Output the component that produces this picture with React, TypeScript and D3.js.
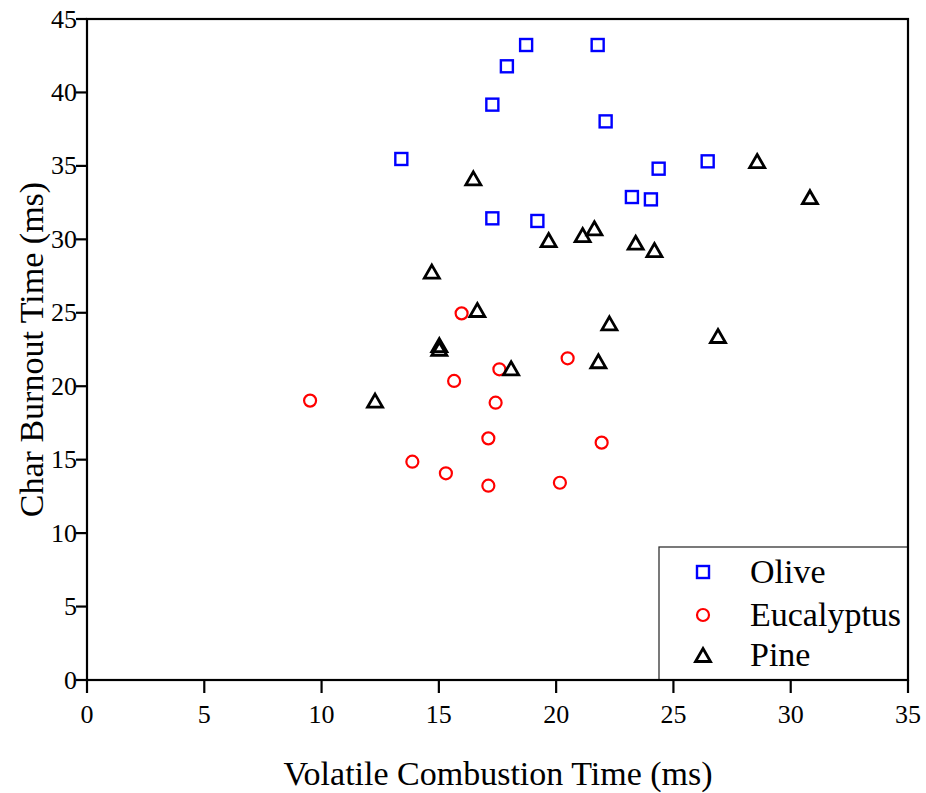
import React from "react";
import * as d3 from "d3";

const oliveX = [18.72, 21.77, 17.9, 17.28, 22.11, 13.4, 24.37, 26.46, 23.23, 24.04, 17.28, 19.2];
const oliveY = [43.23, 43.23, 41.78, 39.17, 38.03, 35.47, 34.81, 35.31, 32.88, 32.72, 31.43, 31.25];

const eucX = [15.97, 20.49, 17.58, 15.65, 17.42, 9.51, 17.11, 21.94, 13.87, 15.3, 17.11, 20.16];
const eucY = [24.96, 21.9, 21.15, 20.36, 18.88, 19.02, 16.45, 16.16, 14.86, 14.07, 13.23, 13.43];

const pineX = [28.57, 30.82, 16.47, 19.68, 21.13, 21.63, 23.39, 24.19, 14.7, 16.64, 15.02, 15.02, 22.27, 26.9, 18.08, 21.8, 12.28];
const pineY = [35.33, 32.87, 34.15, 29.95, 30.29, 30.75, 29.77, 29.27, 27.8, 25.19, 22.8, 22.55, 24.28, 23.42, 21.22, 21.7, 19.02];

const xTicks = [0, 5, 10, 15, 20, 25, 30, 35];
const yTicks = [0, 5, 10, 15, 20, 25, 30, 35, 40, 45];
const seriesNames = ["Olive", "Eucalyptus", "Pine"];

const W = 926, H = 793;
const L = 87, R = 908, T = 19, B = 680;
const FONT = "'Liberation Serif', 'Times New Roman', serif";

const sq = (c: string) => <rect x={-6} y={-6} width={12} height={12} fill="none" stroke={c} strokeWidth={2.4} />;
const circ = (c: string) => <circle r={6} fill="none" stroke={c} strokeWidth={2.2} />;
const tri = (c: string) => <path d="M0,-6.5L7.5,6.5L-7.5,6.5Z" fill="none" stroke={c} strokeWidth={2.8} strokeLinejoin="miter" />;

export default function App() {
  const x = d3.scaleLinear().domain([0, 35]).range([L, R]);
  const y = d3.scaleLinear().domain([0, 45]).range([B, T]);
  const series = [
    { name: seriesNames[0], xs: oliveX, ys: oliveY, mk: () => sq("#0000ff") },
    { name: seriesNames[1], xs: eucX, ys: eucY, mk: () => circ("#ff0000") },
    { name: seriesNames[2], xs: pineX, ys: pineY, mk: () => tri("#000000") },
  ];
  const legY = [572, 615, 655];
  return (
    <svg width={W} height={H} style={{ position: "absolute", left: 0, top: 0, background: "#fff" }} fontFamily={FONT}>
      <rect x={0} y={0} width={W} height={H} fill="#fff" />
      {series.map((s) => (
        <g key={s.name}>
          {s.xs.map((v, i) => (
            <g key={i} transform={`translate(${x(v)},${y(s.ys[i])})`}>{s.mk()}</g>
          ))}
        </g>
      ))}
      {/* legend */}
      <rect x={659} y={547} width={R - 659} height={B - 547} fill="#fff" stroke="#333" strokeWidth={1.3} />
      {series.map((s, i) => (
        <g key={"l" + s.name}>
          <g transform={`translate(703,${legY[i]})`}>{s.mk()}</g>
          <text x={750} y={legY[i] + 11} fontSize={34} fill="#000">{s.name}</text>
        </g>
      ))}
      {/* frame */}
      <rect x={L} y={T} width={R - L} height={B - T} fill="none" stroke="#000" strokeWidth={2.2} />
      {/* x ticks */}
      {xTicks.map((t) => (
        <g key={"x" + t}>
          <line x1={x(t)} x2={x(t)} y1={B} y2={B + 13} stroke="#000" strokeWidth={2.2} />
          <text x={x(t)} y={723} fontSize={26} textAnchor="middle" fill="#000">{t}</text>
        </g>
      ))}
      {yTicks.map((t) => (
        <g key={"y" + t}>
          <line x1={L - 11} x2={L} y1={y(t)} y2={y(t)} stroke="#000" strokeWidth={2.2} />
          <text x={77} y={y(t) + 8.5} fontSize={26} textAnchor="end" fill="#000">{t}</text>
        </g>
      ))}
      <text x={(L + R) / 2 + 0.5} y={785} fontSize={34} textAnchor="middle" fill="#000">Volatile Combustion Time (ms)</text>
      <text transform={`translate(43,${(T + B) / 2}) rotate(-90)`} fontSize={34} textAnchor="middle" fill="#000">Char Burnout Time (ms)</text>
    </svg>
  );
}
